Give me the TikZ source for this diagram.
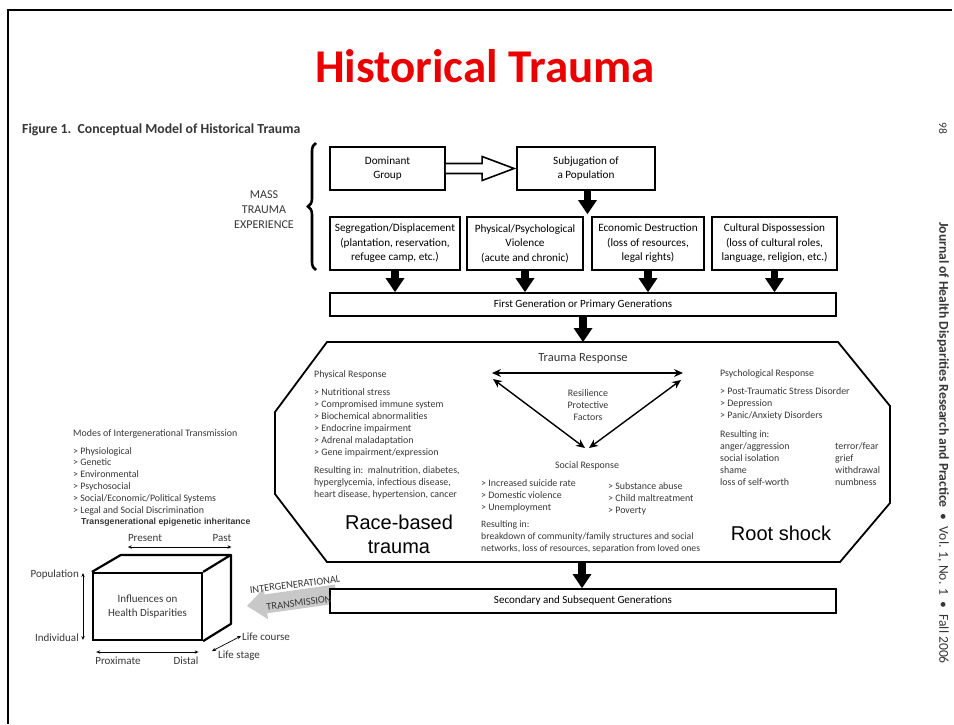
\documentclass[tikz,border=0pt]{standalone}
\usepackage{fontspec}
\setmainfont{Carlito}
\newfontfamily\arialf{Liberation Sans}
\usetikzlibrary{arrows.meta,decorations.pathreplacing,calc}
\definecolor{titlered}{RGB}{235,0,0}
\definecolor{txt}{RGB}{55,55,55}
\definecolor{garrow}{RGB}{200,200,200}
\begin{document}
\begin{tikzpicture}[x=1pt,y=-1pt,
 box/.style={draw, line width=1.8pt, align=center, inner sep=0pt, font=\fontsize{11.2}{14.5}\selectfont},
 bigarrow/.style={line width=7.5pt, -{Triangle[width=19pt,length=14pt,line width=0pt]}},
 sm/.style={font=\fontsize{9.9}{12}\selectfont, text=txt, align=left, inner sep=0pt, anchor=north west},
 tri/.style={line width=1.4pt, {Stealth[length=9pt,width=8pt,line width=0pt]}-{Stealth[length=9pt,width=8pt,line width=0pt]}},
 thinarr/.style={line width=0.7pt, {Stealth[length=4pt,width=3.5pt,line width=0pt]}-{Stealth[length=4pt,width=3.5pt,line width=0pt]}},
 lab/.style={font=\fontsize{11}{12}\selectfont, text=txt, inner sep=0pt},
]
\useasboundingbox (0,0) rectangle (954,724);
\fill[white] (0,0) rectangle (954,724);
\draw[line width=2.6pt] (8,724) -- (8,10) -- (952,10);

% titles
\node[font=\bfseries\fontsize{47}{50}\selectfont, text=titlered] (title) at (485,66) {Historical Trauma};
\node[font=\bfseries\fontsize{13.8}{15}\selectfont, anchor=west, inner sep=0pt, text=txt] (cap) at (22,130) {Figure 1.\ \ Conceptual Model of Historical Trauma};
\node[rotate=-90, font=\fontsize{11.5}{12}\selectfont, inner sep=0pt, text=txt] (pg) at (943,128) {98};
\node[rotate=-90, anchor=west, font=\fontsize{13.6}{14}\selectfont, inner sep=0pt, text=txt] (jn) at (943,222) {\textbf{Journal of Health Disparities Research and Practice}\ \ •\ \ Vol. 1, No. 1\ \ •\ \ Fall 2006};

% brace and label
\draw[line width=2.6pt, decorate, decoration={brace, amplitude=8pt}] (316,270) -- (316,143);
\node[align=center, font=\fontsize{12}{15}\selectfont, text=txt] (mass) at (264,210) {MASS\\TRAUMA\\EXPERIENCE};

% top boxes
\node[box, minimum width=115, minimum height=43] (dom) at (387.5,168.5) {Dominant\\Group};
\node[box, minimum width=138, minimum height=43] (sub) at (586,168.5) {Subjugation of\\a Population};
\draw[line width=1.6pt, fill=white, line join=miter]
  ($(dom.east)+(0,-5)$) -- ($(sub.west)+(-34,-5)$) -- ($(sub.west)+(-34,-12)$) -- ($(sub.west)+(-2,0)$)
  -- ($(sub.west)+(-34,12)$) -- ($(sub.west)+(-34,5)$) -- ($(dom.east)+(0,5)$);

\node[box, minimum width=130, minimum height=53] (seg) at (395,243.5) {Segregation/Displacement\\(plantation, reservation,\\refugee camp, etc.)};
\node[box, minimum width=116, minimum height=53] (phy) at (525,243.5) {Physical/Psychological\\Violence\\(acute and chronic)};
\node[box, minimum width=112, minimum height=53] (eco) at (648,243.5) {Economic Destruction\\(loss of resources,\\legal rights)};
\node[box, minimum width=125, minimum height=53] (cul) at (774.5,243.5) {Cultural Dispossession\\(loss of cultural roles,\\language, religion, etc.)};

\coordinate (gapc) at ($(phy.north east)!0.5!(eco.north west)+(0,-2)$);
\draw[bigarrow] (sub.south -| gapc) -- (gapc);

\node[box, minimum width=506, minimum height=23, font=\fontsize{11}{13}\selectfont] (first) at (583,304.5) {First Generation or Primary Generations};
\foreach \b in {seg,phy,eco,cul} \draw[bigarrow] (\b.south) -- (\b.south |- first.north);

% octagon
\coordinate (octN) at (583,342);
\coordinate (octS) at (582,562);
\draw[line width=1.8pt, line join=miter] (327,342) -- (838,342) -- (890,406) -- (890,503) -- (840,562) -- (327,562) -- (275,494) -- (275,412) -- cycle;
\draw[bigarrow] (first.south) -- (first.south |- octN);

% trauma response triangle
\node[font=\fontsize{12.5}{14}\selectfont, text=txt, inner sep=0pt] (tr) at (583,358) {Trauma Response};
\coordinate (tl) at (492,373);
\coordinate (trr) at (683,373);
\coordinate (tl2) at (493,379);
\coordinate (tr2) at (681,380);
\coordinate (bl) at (585,448);
\coordinate (br) at (589,448);
\draw[tri] (tl) -- (trr);
\draw[tri] (tl2) -- (bl);
\draw[tri] (tr2) -- (br);
\node[align=center, font=\fontsize{9.9}{12}\selectfont, text=txt, inner sep=0pt] (res) at (588,405) {Resilience\\Protective\\Factors};
\node[font=\fontsize{9.9}{12}\selectfont, text=txt, inner sep=0pt] (soc) at (587,466) {Social Response};

% physical response
\node[sm] (phh) at (314,370) {Physical Response};
\node[sm] (phl) at (314,388.5) {> Nutritional stress\\> Compromised immune system\\> Biochemical abnormalities\\> Endocrine impairment\\> Adrenal maladaptation\\> Gene impairment/expression};
\node[sm] (phr) at (314,466) {Resulting in:\ \ malnutrition, diabetes,\\hyperglycemia, infectious disease,\\heart disease, hypertension, cancer};
\node[font=\arialf\fontsize{20}{24}\selectfont, align=center, inner sep=0pt] (rbt) at (399,534) {Race-based\\trauma};

% social response
\node[sm] (sl1) at (481,479.5) {> Increased suicide rate\\> Domestic violence\\> Unemployment};
\node[sm] (sl2) at (608,482.5) {> Substance abuse\\> Child maltreatment\\> Poverty};
\node[sm, font=\fontsize{9.7}{12}\selectfont] (slr) at (481,521) {Resulting in:\\breakdown of community/family structures and social\\networks, loss of resources, separation from loved ones};

% psychological response
\node[sm] (psh) at (720,369) {Psychological Response};
\node[sm] (psl) at (720,387.5) {> Post-Traumatic Stress Disorder\\> Depression\\> Panic/Anxiety Disorders};
\node[sm] (psr) at (720,430.5) {Resulting in:\\anger/aggression\\social isolation\\shame\\loss of self-worth};
\node[sm] (psr2) at (835,442.5) {terror/fear\\grief\\withdrawal\\numbness};
\node[font=\arialf\fontsize{20}{24}\selectfont, inner sep=0pt] (rs) at (781,533) {Root shock};

% secondary generations
\begin{scope}[shift={(247,606)}, rotate=8]
  \fill[garrow] (0,0) -- (19,-15) -- (19,-9) -- (90,-9) -- (90,10) -- (19,10) -- (19,16) -- cycle;
\end{scope}
\node[box, fill=white, minimum width=506, minimum height=24, font=\fontsize{11}{13}\selectfont] (sec) at (583,601) {Secondary and Subsequent Generations};
\draw[bigarrow] (octS) -- (octS |- sec.north);
\node[rotate=7, font=\fontsize{10.4}{11}\selectfont, text=txt, inner sep=0pt] (ig1) at (295,584.5) {INTERGENERATIONAL};
\node[rotate=7, font=\fontsize{10.4}{11}\selectfont, text=txt, inner sep=0pt] (ig2) at (299,603) {TRANSMISSION};

% modes of transmission
\node[sm] (mh) at (73,429) {Modes of Intergenerational Transmission};
\node[sm, font=\fontsize{9.9}{11.8}\selectfont] (ml) at (73,447) {> Physiological\\> Genetic\\> Environmental\\> Psychosocial\\> Social/Economic/Political Systems\\> Legal and Social Discrimination};
\node[font=\arialf\bfseries\fontsize{8.7}{9}\selectfont, anchor=west, inner sep=0pt, text=txt] (tei) at (81,522) {Transgenerational epigenetic inheritance};

% cube
\node[draw, line width=2.2pt, minimum width=109, minimum height=67, align=center, font=\fontsize{11}{14}\selectfont, inner sep=0pt, text=txt] (front) at (147.5,606.5) {Influences on\\Health Disparities};
\draw[line width=2.2pt, line join=round] (front.north west) -- ++(29,-17) -- ++(110,0) -- (front.north east);
\draw[line width=2.2pt, line join=round] ($(front.north west)+(139,-17)$) -- ++(0,69) -- (front.south east);

\node[lab, anchor=east] (pop) at (79,575) {Population};
\node[lab, anchor=east] (ind) at (79,638) {Individual};
\draw[thinarr] ($(pop.east)+(4,-2)$) -- ($(ind.east)+(4,2)$);

\node[lab] (pres) at (145,538) {Present};
\node[lab] (past) at (222,538) {Past};
\draw[thinarr] ($(pres.west)+(0,9)$) -- ($(past.east)+(0,9)$);

\node[lab] (prox) at (118,661) {Proximate};
\node[lab] (dist) at (186,661) {Distal};
\draw[thinarr] ($(prox.west)+(1,-9)$) -- ($(dist.east)+(0,-9)$);

\node[lab, anchor=west] (lc) at (242,637) {Life course};
\node[lab, anchor=west] (ls) at (218,656) {Life stage};
\draw[thinarr] ($(ls.north west)+(-6,0)$) -- ($(lc.west)+(-1,-1)$);
\end{tikzpicture}
\end{document}
